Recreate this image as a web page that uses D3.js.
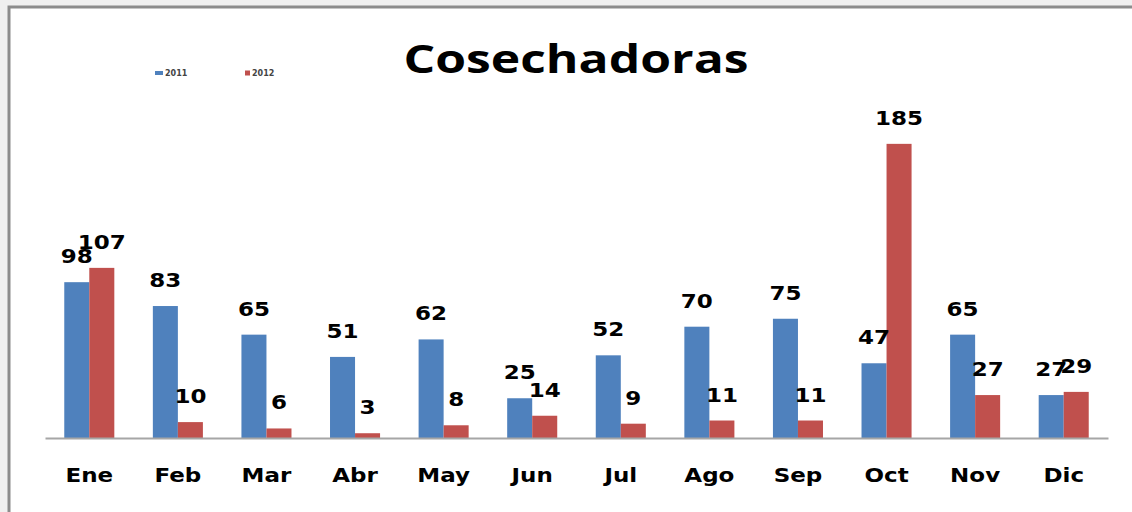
<!DOCTYPE html>
<html>
<head>
<meta charset="utf-8">
<script src="https://cdn.jsdelivr.net/npm/d3@7"></script>
<style>
  html, body { margin: 0; padding: 0; background: #f0f0f0; }
  svg { display: block; }
</style>
</head>
<body>
<div id="chart"></div>
<script>
const months = ['Ene', 'Feb', 'Mar', 'Abr', 'May', 'Jun', 'Jul', 'Ago', 'Sep', 'Oct', 'Nov', 'Dic'];
const seriesNames = ['2011', '2012'];
const values2011 = [98, 83, 65, 51, 62, 25, 52, 70, 75, 47, 65, 27];
const values2012 = [107, 10, 6, 3, 8, 14, 9, 11, 11, 185, 27, 29];
const colors = ['#4f81bd', '#c0504d'];

const width = 1132, height = 512;
const baseY = 438;

const svg = d3.select('#chart').append('svg')
  .attr('width', width)
  .attr('height', height);

// frame of the embedded chart
svg.append('rect')
  .attr('x', 9).attr('y', 7)
  .attr('width', width + 20).attr('height', height + 20)
  .attr('fill', '#fff')
  .attr('stroke', '#8c8c8c')
  .attr('stroke-width', 3);

const x0 = d3.scaleBand()
  .domain(months)
  .range([45, 1108])
  .paddingInner(0.435)
  .paddingOuter(0.2175);

const x1 = d3.scaleBand()
  .domain(seriesNames)
  .range([0, x0.bandwidth()]);

const y = d3.scaleLinear()
  .domain([0, 200])
  .range([baseY, baseY - 318]);

const rows = months.map((m, i) => ({
  month: m,
  vals: [values2011[i], values2012[i]]
}));

const groups = svg.append('g')
  .selectAll('g')
  .data(rows)
  .join('g')
  .attr('transform', d => `translate(${x0(d.month)},0)`);

groups.selectAll('rect')
  .data(d => d.vals.map((v, i) => ({ key: seriesNames[i], v, i })))
  .join('rect')
  .attr('x', d => x1(d.key))
  .attr('y', d => y(d.v))
  .attr('width', x1.bandwidth())
  .attr('height', d => baseY - y(d.v))
  .attr('fill', d => colors[d.i]);

// value labels
const labelFont = "'DejaVu Sans', Verdana, sans-serif";
groups.selectAll('text.val')
  .data(d => d.vals.map((v, i) => ({ key: seriesNames[i], v, i })))
  .join('text')
  .classed('val', true)
  .attr('transform', d => `translate(${x1(d.key) + x1.bandwidth() / 2},${y(d.v) - 19}) scale(1.15,1)`)
  .attr('text-anchor', 'middle')
  .style('font-family', labelFont)
  .style('font-weight', 'bold')
  .style('font-size', '20px')
  .attr('fill', '#000')
  .text(d => d.v);

// axis
const xAxis = d3.axisBottom(x0).tickSize(0).tickSizeOuter(0);
const gx = svg.append('g')
  .attr('transform', `translate(0,${baseY})`)
  .call(xAxis);
gx.select('.domain')
  .attr('stroke', '#a6a6a6')
  .attr('stroke-width', 2);
gx.selectAll('text')
  .attr('y', 44)
  .attr('dy', 0)
  .attr('transform', 'scale(1.15,1)')
  .style('font-family', labelFont)
  .style('font-weight', 'bold')
  .style('font-size', '20px')
  .attr('fill', '#000');

// title
svg.append('text')
  .attr('x', 576)
  .attr('y', 73)
  .attr('text-anchor', 'middle')
  .attr('textLength', 345)
  .attr('lengthAdjust', 'spacingAndGlyphs')
  .style('font-family', "'Open Sans', sans-serif")
  .style('font-weight', 'bold')
  .style('font-size', '40px')
  .attr('fill', '#000')
  .text('Cosechadoras');

// legend
const legend = svg.append('g');
const legendItems = [
  { name: seriesNames[0], x: 155, w: 8, h: 4 },
  { name: seriesNames[1], x: 245, w: 5, h: 5 }
];
legendItems.forEach((d, i) => {
  legend.append('rect')
    .attr('x', d.x)
    .attr('y', 73 - d.h / 2)
    .attr('width', d.w)
    .attr('height', d.h)
    .attr('fill', colors[i]);
  legend.append('text')
    .attr('x', d.x + d.w + 2)
    .attr('y', 76)
    .style('font-family', labelFont)
    .style('font-weight', 'bold')
    .style('font-size', '8px')
    .attr('fill', '#444')
    .text(d.name);
});
</script>
</body>
</html>
